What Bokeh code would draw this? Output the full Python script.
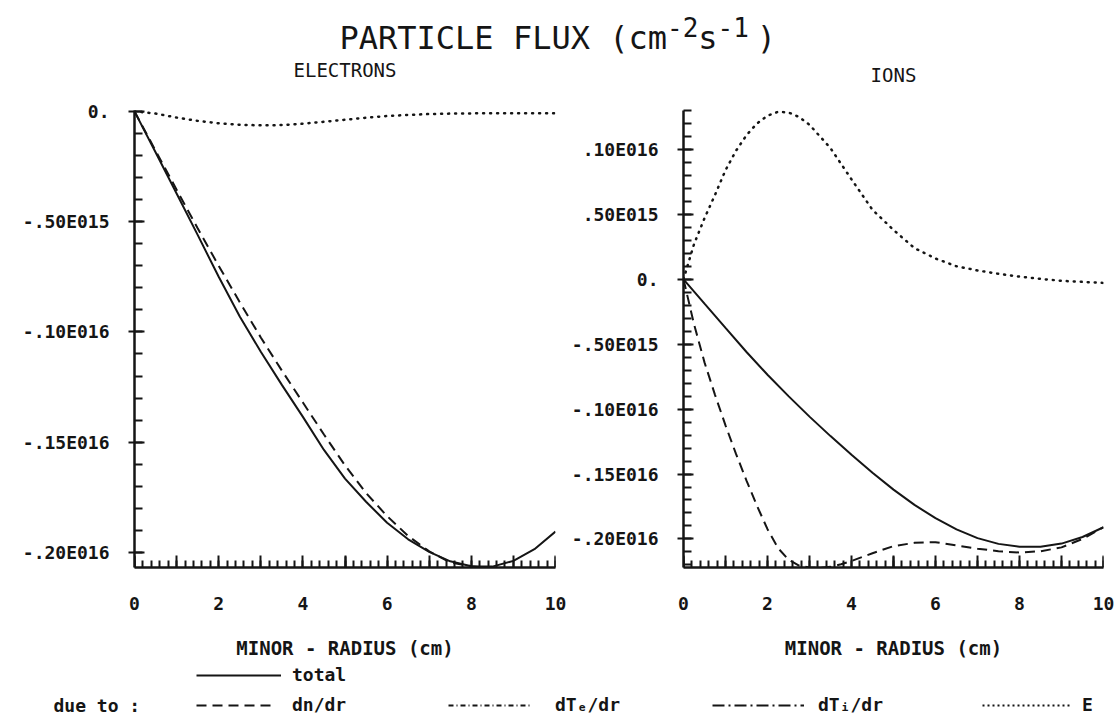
from bokeh.plotting import figure
from bokeh.layouts import column, row
from bokeh.models import FixedTicker, LinearAxis, Range1d, Legend, LegendItem, Label
from bokeh.core.properties import value
from bokeh.embed import file_html
from bokeh.resources import INLINE

# ---------------- data (flux in units of 1E15 cm^-2 s^-1, radius in cm) ----------------
r_e = [0, 0.5, 1, 1.5, 2, 2.5, 3, 3.5, 4, 4.5, 5, 5.5, 6, 6.5, 7, 7.5, 8, 8.5, 9, 9.5, 10]
e_total = [0, -0.185, -0.372, -0.56, -0.75, -0.93, -1.09, -1.24, -1.385, -1.535, -1.665,
           -1.77, -1.865, -1.94, -1.997, -2.04, -2.062, -2.064, -2.038, -1.985, -1.905]
e_dndr = [0, -0.178, -0.355, -0.53, -0.70, -0.865, -1.025, -1.175, -1.32, -1.465, -1.605,
          -1.73, -1.835, -1.925, -1.995, -2.045, -2.062, -2.072, -2.085, -2.095, -2.10]
e_E = [0, -0.01, -0.028, -0.043, -0.054, -0.061, -0.063, -0.062, -0.056, -0.047, -0.038,
       -0.029, -0.021, -0.016, -0.012, -0.010, -0.009, -0.008, -0.008, -0.008, -0.008]

r_i = [0, 0.5, 1, 1.5, 2, 2.5, 3, 3.5, 4, 4.5, 5, 5.5, 6, 6.5, 7, 7.5, 8, 8.5, 9, 9.5, 10]
i_total = [0, -0.188, -0.375, -0.56, -0.735, -0.9, -1.058, -1.208, -1.352, -1.49, -1.62,
           -1.738, -1.84, -1.926, -1.994, -2.038, -2.06, -2.06, -2.036, -1.985, -1.91]

r_i_fine = [0, 0.25, 0.5, 0.75, 1.0, 1.25, 1.5, 1.75, 2.0, 2.25, 2.5, 2.75, 3.0, 3.25, 3.5,
            3.75, 4.0, 4.5, 5.0, 5.5, 6.0, 6.5, 7.0, 7.5, 8.0, 8.5, 9.0, 9.5, 10.0]
i_dndr = [0, -0.345, -0.64, -0.89, -1.125, -1.345, -1.55, -1.745, -1.925, -2.07, -2.16, -2.205,
          -2.22, -2.222, -2.215, -2.195, -2.17, -2.11, -2.055, -2.03, -2.025, -2.05, -2.075,
          -2.095, -2.105, -2.095, -2.065, -2.0, -1.91]
i_E = [0, 0.27, 0.47, 0.65, 0.84, 0.99, 1.11, 1.20, 1.26, 1.29, 1.285, 1.25, 1.19, 1.10, 1.01,
       0.89, 0.77, 0.535, 0.38, 0.24, 0.16, 0.10, 0.068, 0.042, 0.02, 0.003, -0.012, -0.02, -0.028]

# ---------------- tick labels / texts ----------------
x_label_ticks = [0, 2, 4, 6, 8, 10]
e_yticks = [0.0, -0.5, -1.0, -1.5, -2.0]
e_ylabels = ["0.", "-.50E015", "-.10E016", "-.15E016", "-.20E016"]
i_yticks = [1.0, 0.5, 0.0, -0.5, -1.0, -1.5, -2.0]
i_ylabels = [".10E016", ".50E015", "0.", "-.50E015", "-.10E016", "-.15E016", "-.20E016"]
X_LABEL = "MINOR - RADIUS (cm)"
TITLE_PARTS = ["PARTICLE FLUX (cm", "-2", "s", "-1", ")"]
PANEL_TITLES = ["ELECTRONS", "IONS"]
LEG_LABELS = ["total", "dn/dr", "dT\u2091/dr", "dT\u1d62/dr", "E"]

INK = "#151515"
MONO = "DejaVu Sans Mono"

DASHED = "10 6"
DOTTED = "1 6"
NAN = float("nan")


def style_axis_common(ax):
    ax.axis_line_color = INK
    ax.major_tick_line_color = INK
    ax.minor_tick_line_color = INK
    ax.major_tick_line_width = 2
    ax.minor_tick_line_width = 2


def panel(ylo, yhi, yticks, ylabels, width, height, b_left, b_top):
    p = figure(width=width, height=height, x_range=Range1d(0, 10), y_range=Range1d(ylo, yhi),
               output_backend="svg", toolbar_location=None,
               min_border_left=b_left, min_border_right=13, min_border_top=b_top,
               min_border_bottom=98, x_axis_label=X_LABEL)
    p.outline_line_color = None
    p.grid.visible = False

    # labelled x axis (labels + line)
    xa = p.xaxis[0]
    xa.ticker = FixedTicker(ticks=x_label_ticks, minor_ticks=[])
    style_axis_common(xa)
    xa.axis_line_width = 2.5
    xa.major_tick_in = 0
    xa.major_tick_out = 0
    xa.major_label_standoff = 29
    xa.major_label_text_font = MONO
    xa.major_label_text_font_size = "18px"
    xa.major_label_text_font_style = "bold"
    xa.major_label_text_color = INK
    xa.axis_label_text_font = MONO
    xa.axis_label_text_font_size = "19px"
    xa.axis_label_text_font_style = "bold"
    xa.axis_label_text_color = INK
    xa.axis_label_standoff = 24

    minor_x = [round(0.2 * k, 1) for k in range(51)]
    ax5 = LinearAxis(fixed_location=ylo, ticker=FixedTicker(ticks=[0, 5, 10], minor_ticks=minor_x),
                     major_tick_in=11, major_tick_out=6, minor_tick_in=7, minor_tick_out=0,
                     major_label_text_color=None,
                     major_label_overrides={0: "", 5: "", 10: ""})
    style_axis_common(ax5)
    ax5.axis_line_color = None
    p.add_layout(ax5, "below")
    ints = list(range(11))
    ax1 = LinearAxis(fixed_location=ylo, ticker=FixedTicker(ticks=ints, minor_ticks=[]),
                     major_tick_in=12, major_tick_out=0,
                     major_label_text_color=None, major_label_overrides={i: "" for i in ints})
    style_axis_common(ax1)
    ax1.axis_line_color = None
    p.add_layout(ax1, "below")

    # y axis
    ya = p.yaxis[0]
    lo10, hi10 = int(round(ylo * 10)), int(round(yhi * 10))
    yminor = [k / 10 for k in range(lo10, hi10 + 1)]
    ya.ticker = FixedTicker(ticks=yticks, minor_ticks=yminor)
    ya.major_label_overrides = dict(zip(yticks, ylabels))
    style_axis_common(ya)
    ya.axis_line_width = 2.5
    ya.major_tick_in = 10
    ya.major_tick_out = 6
    ya.minor_tick_in = 8
    ya.minor_tick_out = 0
    ya.major_label_standoff = 19
    ya.major_label_text_font = MONO
    ya.major_label_text_font_size = "18px"
    ya.major_label_text_font_style = "bold"
    ya.major_label_text_color = INK
    return p


HEAD_H = 88
ROW_H = 665 - HEAD_H

p1 = panel(-2.068, 0.004, e_yticks, e_ylabels, 568, ROW_H, 134, 106 - HEAD_H)
p1.line(r_e, e_total, line_color=INK, line_width=2)
p1.line(r_e, e_dndr, line_color=INK, line_width=2, line_dash=DASHED)
p1.line(r_e, e_E, line_color=INK, line_width=2.5, line_dash=DOTTED, line_cap="round")

p2 = panel(-2.22, 1.3, i_yticks, i_ylabels, 548, ROW_H, 115, 110 - HEAD_H)
p2.line(r_i, i_total, line_color=INK, line_width=2)
p2.line(r_i_fine, i_dndr, line_color=INK, line_width=2, line_dash=DASHED)
p2.line(r_i_fine, i_E, line_color=INK, line_width=2.5, line_dash=DOTTED, line_cap="round")

# ---------------- header: main title and panel titles ----------------
ph = figure(width=1116, height=HEAD_H, x_range=Range1d(0, 1116), y_range=Range1d(0, HEAD_H),
            x_axis_location=None, y_axis_location=None, min_border=0,
            output_backend="svg", toolbar_location=None)
ph.outline_line_color = None
ph.grid.visible = False
big, small = 32, 26
cw_big, cw_small = 0.602 * big, 0.602 * small
xs, ys, sizes = [], [], []
cur = 339.0
for part in TITLE_PARTS:
    is_sup = part.startswith("-")
    if part == ")":
        cur += 8
    xs.append(cur)
    ys.append(HEAD_H - 26 if is_sup else HEAD_H - 37)
    sizes.append(f"{small if is_sup else big}px")
    cur += len(part) * (cw_small if is_sup else cw_big)
ph.text(x=xs, y=ys, text=TITLE_PARTS, text_font=value(MONO), text_font_size=sizes,
        text_align="left", text_baseline="alphabetic", text_color=INK)
# panel titles centred over each frame
ph.text(x=[344.5, 893], y=[HEAD_H - 69, HEAD_H - 74], text=PANEL_TITLES,
        text_font=value(MONO), text_font_size="19px", text_align="center",
        text_baseline="middle", text_color=INK)

# ---------------- legend strip ----------------
pl = figure(width=1116, height=56, x_range=Range1d(0, 1), y_range=Range1d(0, 1),
            x_axis_location=None, y_axis_location=None, min_border=0,
            output_backend="svg", toolbar_location=None)
pl.outline_line_color = None
pl.grid.visible = False
styles = ["solid", "10 6", "5 3 1 3", "12 4 2 4", "2 3"]
# (x, y, glyph width, label standoff) of each key in the strip
spots = [(196, 36, 85, 11), (196, 6, 78, 18), (448, 6, 82, 25), (712, 6, 92, 14), (982, 6, 89, 11)]
for lab, st, (lx, ly, gw, so) in zip(LEG_LABELS, styles, spots):
    rr = pl.line([NAN, NAN], [NAN, NAN], line_color=INK, line_width=2, line_dash=st)
    lg = Legend(items=[LegendItem(label=lab, renderers=[rr])], location=(lx, ly),
                glyph_width=gw, glyph_height=20, label_height=20, label_standoff=so,
                padding=0, margin=0, spacing=0, border_line_alpha=0, background_fill_alpha=0,
                label_text_font=MONO, label_text_font_size="18px", label_text_font_style="bold",
                label_text_color=INK, label_text_baseline="middle")
    pl.add_layout(lg)
pl.add_layout(Label(x=53, y=16, x_units="screen", y_units="screen", text="due to :",
                    text_baseline="middle", text_font=MONO, text_font_size="18px",
                    text_font_style="bold", text_color=INK))

layout = column(ph, row(p1, p2), pl)
open("out.html", "w").write(file_html(layout, INLINE))
